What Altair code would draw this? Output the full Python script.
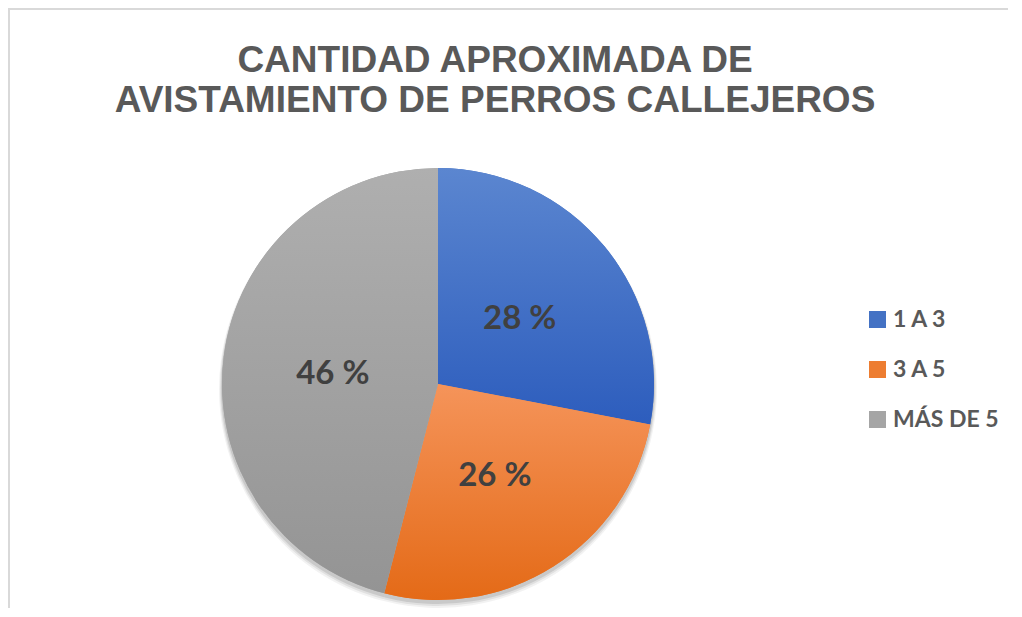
import altair as alt
import pandas as pd

categories = ["1 A 3", "3 A 5", "MÁS DE 5"]
values = [28, 26, 46]
labels = ["28 %", "26 %", "46 %"]
title_lines = ["CANTIDAD APROXIMADA DE", "AVISTAMIENTO DE PERROS CALLEJEROS"]

df = pd.DataFrame({"cat": categories, "value": values, "label": labels, "idx": [0, 1, 2]})
tdf = pd.DataFrame({"line": title_lines, "row": [0, 1]})

CX, CY, R = 430, 376, 216

def grad(c1, c2):
    return {"gradient": "linear", "x1": 0, "y1": 0, "x2": 0, "y2": 1,
            "stops": [{"offset": 0, "color": c1}, {"offset": 1, "color": c2}]}

base = alt.Chart(df)
theta = alt.Theta("value:Q", stack=True)
order = alt.Order("idx:Q")

shadows = [
    base.mark_arc(fill="#000000", opacity=op).encode(
        theta=theta, order=order, x=alt.value(CX), y=alt.value(CY + dy), radius=alt.value(R + dr)
    )
    for dy, dr, op in [(5, 3, 0.05), (4, 2, 0.07), (3, 1, 0.1)]
]

main = base.mark_arc().encode(
    theta=theta, order=order, x=alt.value(CX), y=alt.value(CY), radius=alt.value(R),
    color=alt.Color("cat:N", scale=alt.Scale(domain=categories, range=["#4472C4", "#ED7D31", "#A5A5A5"]),
                    legend=alt.Legend(title=None, orient="none", legendX=858, legendY=300,
                                      symbolType="square", symbolSize=290, symbolStrokeWidth=0,
                                      labelFont="Lato", labelFontSize=23, labelFontWeight="bold",
                                      labelColor="#595959", labelOffset=4, rowPadding=26, padding=0)),
)

overlay = base.mark_arc().encode(
    theta=theta, order=order, x=alt.value(CX), y=alt.value(CY), radius=alt.value(R),
    fill={"condition": [
        {"test": "datum.cat === '1 A 3'", "value": grad("#5B86D0", "#2D5DBD")},
        {"test": "datum.cat === '3 A 5'", "value": grad("#F5945A", "#E46A17")},
    ], "value": grad("#AFAFAF", "#949494")},
)

text = base.mark_text(font="Lato", fontSize=33, fontWeight="bold", color="#404040",
                      baseline="middle", align="center", dy=3).encode(
    theta=theta, order=order, x=alt.value(CX), y=alt.value(CY), radius=alt.value(106),
    text="label:N",
)

title = alt.Chart(tdf).mark_text(font="Liberation Sans", fontSize=37, fontWeight="bold",
                                 color="#595959", align="center", baseline="alphabetic").encode(
    x=alt.value(487),
    y=alt.Y("row:Q", scale=alt.Scale(domain=[0, 1], range=[64, 104]), axis=None),
    text="line:N",
)

border_top = alt.Chart(tdf).mark_rule(color="#d9d9d9", strokeWidth=2).encode(
    x=alt.value(0), x2=alt.value(1000), y=alt.value(1))
border_left = alt.Chart(tdf).mark_rule(color="#d9d9d9", strokeWidth=2).encode(
    x=alt.value(1), y=alt.value(0), y2=alt.value(600))

chart = alt.layer(border_top, border_left, *shadows, main, overlay, text, title).properties(
    width=1000, height=600, padding=0, autosize=alt.AutoSizeParams(type="none"),
    background="white",
).configure_view(stroke=None)

chart.save("out.html", embed_options={"renderer": "svg", "actions": False})
